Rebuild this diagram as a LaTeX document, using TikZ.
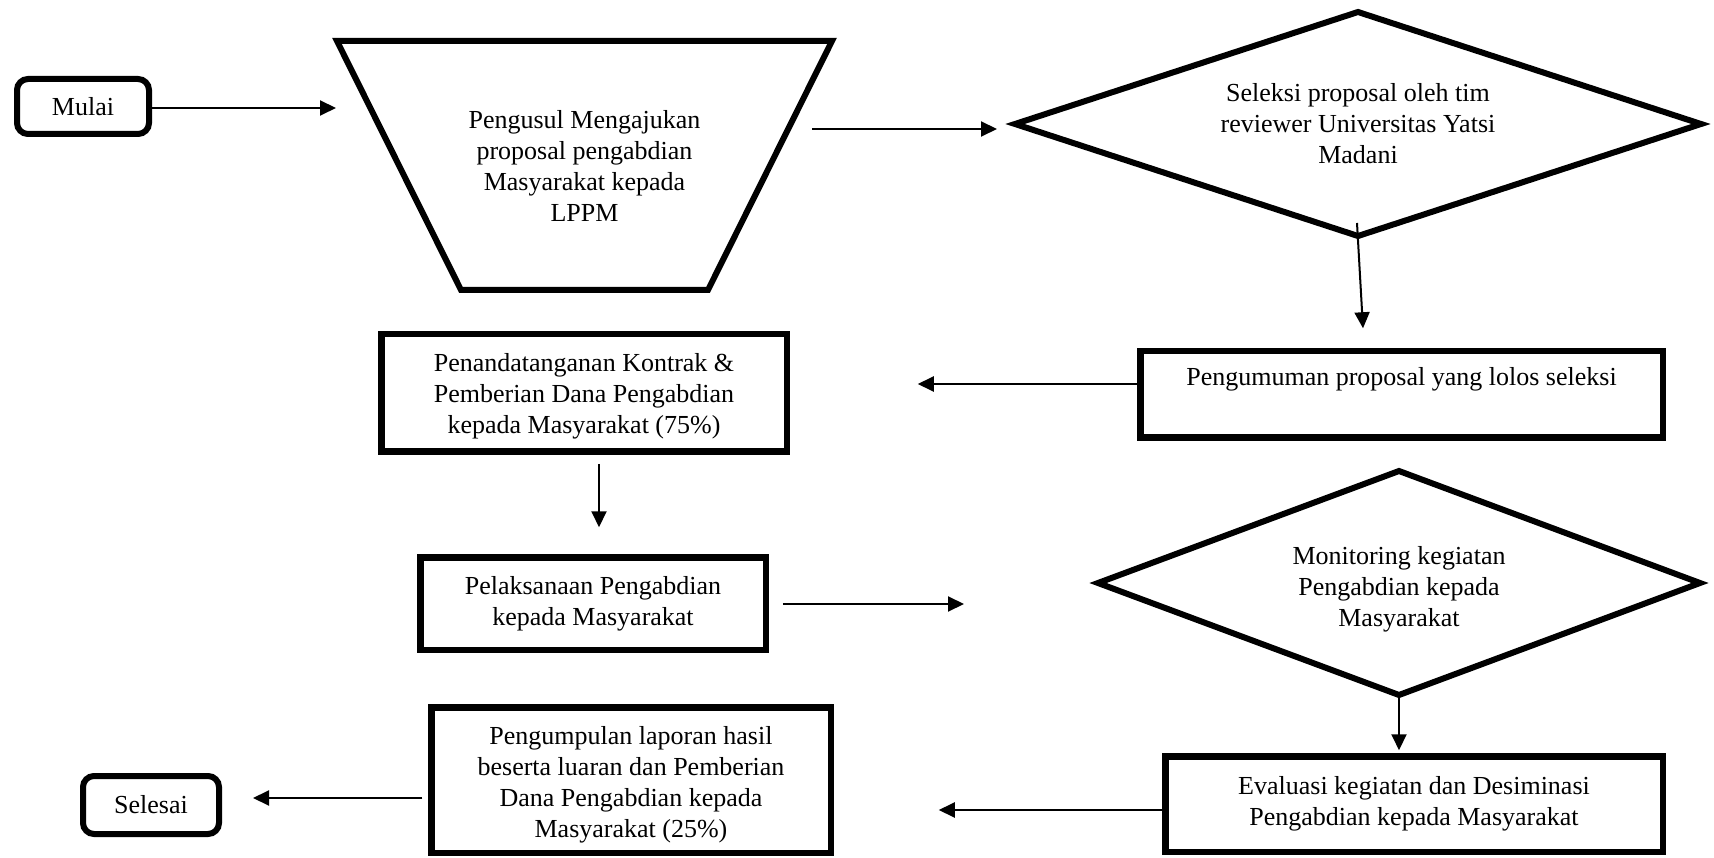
\documentclass[tikz,border=0pt]{standalone}
\usepackage{fontspec}
\setmainfont{Liberation Serif}
\usetikzlibrary{arrows.meta,shapes.geometric,calc}
\tikzset{
  txt/.style={font=\fontsize{26}{31}\selectfont, align=center, text=black},
  boxstep/.style={txt, draw=black, line width=6.5pt, rectangle, inner sep=0pt, outer sep=0pt, fill=white},
  term/.style={txt, draw=black, line width=6pt, rectangle, rounded corners=11pt, inner sep=0pt, outer sep=0pt, fill=white},
  decide/.style={txt, draw=black, line width=6pt, diamond, aspect=3, inner sep=0pt, outer sep=0pt, fill=white},
  funnelline/.style={draw=black, line width=6pt, line join=miter, fill=white},
  arr/.style={line width=2pt, draw=black, -{Triangle[length=16pt,width=15pt]}}
}
\begin{document}
\begin{tikzpicture}[x=1pt,y=-1pt]
\useasboundingbox[fill=white] (0,0) rectangle (1714,858);

\node[term, minimum width=132pt, minimum height=55pt] (mulai) at (83,106.5) {Mulai};
\draw[funnelline] (337,41) -- (832,41) -- (708,290) -- (461,290) -- cycle;
\node[txt, inner sep=0pt] (usul) at (584.5,165.5)
  {Pengusul Mengajukan\\proposal pengabdian\\Masyarakat kepada\\LPPM};
\node[decide, minimum width=686pt, minimum height=224pt] (seleksi) at (1358,124)
  {Seleksi proposal oleh tim\\reviewer Universitas Yatsi\\Madani};
\node[boxstep, minimum width=522.5pt, minimum height=86.5pt] (umum) at (1401.5,394.5)
  {Pengumuman proposal yang lolos seleksi\\[-5pt]\strut};
\node[boxstep, minimum width=405.5pt, minimum height=117.5pt] (kontrak) at (584,393)
  {\rule{0pt}{25pt}Penandatanganan Kontrak \&\\Pemberian Dana Pengabdian\\kepada Masyarakat (75\%)};
\node[boxstep, minimum width=345.5pt, minimum height=92.5pt] (laksana) at (593,603.5)
  {Pelaksanaan Pengabdian\\kepada Masyarakat};
\node[decide, minimum width=602pt, minimum height=224pt] (monitor) at (1399,583)
  {\rule{0pt}{30pt}Monitoring kegiatan\\Pengabdian kepada\\Masyarakat};
\node[boxstep, minimum width=497.5pt, minimum height=95.5pt] (evaluasi) at (1414,804)
  {Evaluasi kegiatan dan Desiminasi\\Pengabdian kepada Masyarakat};
\node[boxstep, minimum width=399.5pt, minimum height=145.5pt] (laporan) at (631,780)
  {\rule{0pt}{28pt}Pengumpulan laporan hasil\\beserta luaran dan Pemberian\\Dana Pengabdian kepada\\Masyarakat (25\%)};
\node[term, minimum width=136pt, minimum height=58pt] (selesai) at (151,805) {Selesai};

% connectors
\draw[arr] ($(mulai.east)+(2,1.5)$) -- ($(usul.center)+(-248.5,-57.5)$);
\draw[arr] ($(usul.center)+(227.5,-36.5)$) -- ($(seleksi.west)+(-18,5)$);
\draw[arr] ($(seleksi.south)+(-1,-13)$) -- ($(umum.north)+(-38.5,-23)$);
\draw[arr] ($(umum.west)+(-3,-10.5)$) -- ($(kontrak.east)+(131,-9)$);
\draw[arr] ($(kontrak.south)+(15,12)$) -- ($(laksana.north)+(6,-30)$);
\draw[arr] ($(laksana.east)+(17,0.5)$) -- ($(monitor.west)+(-134,21)$);
\draw[arr] (monitor.south) -- ($(evaluasi.north)+(-15,-6)$);
\draw[arr] ($(evaluasi.west)+(-3,6)$) -- ($(laporan.east)+(108,30)$);
\draw[arr] ($(laporan.west)+(-9,18)$) -- ($(selesai.east)+(34,-7)$);
\end{tikzpicture}
\end{document}
